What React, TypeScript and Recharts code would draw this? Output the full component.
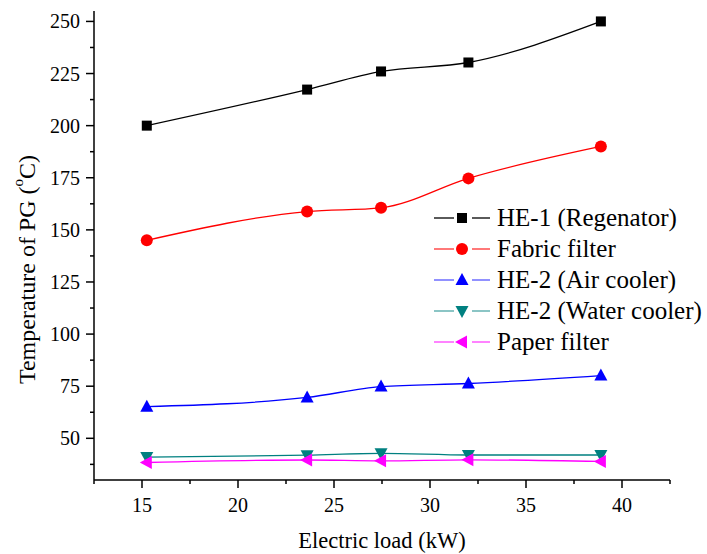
import React from 'react';
import { LineChart, Line, XAxis, YAxis, Legend } from 'recharts';

// electric load (kW)
const loads = [15.25, 23.6, 27.45, 32.0, 38.9];

// temperature of PG (°C) at each component
const regenerator = [200, 217.3, 226, 230.3, 250];
const fabricFilter = [145, 158.8, 160.6, 174.7, 190];
const airCooler = [65.2, 69.6, 74.8, 76.3, 80.1];
const waterCooler = [41, 41.9, 42.8, 42, 42];
const paperFilter = [38.4, 39.6, 39.2, 39.7, 38.9];

const xTicks = [12.5, 15, 17.5, 20, 22.5, 25, 27.5, 30, 32.5, 35, 37.5, 40, 42.5];
const xMajor = [15, 20, 25, 30, 35, 40];
const yTicks = [
  37.5, 50, 62.5, 75, 87.5, 100, 112.5, 125, 137.5, 150, 162.5, 175, 187.5, 200, 212.5,
  225, 237.5, 250,
];
const yMajor = [50, 75, 100, 125, 150, 175, 200, 225, 250];

const FONT = "'Liberation Serif', serif";

const data = loads.map((x, i) => ({
  x,
  he1: regenerator[i],
  fabric: fabricFilter[i],
  air: airCooler[i],
  water: waterCooler[i],
  paper: paperFilter[i],
}));

type Shape = 'square' | 'circle' | 'up' | 'down' | 'left';

const series: { key: string; name: string; color: string; legendLine: string; shape: Shape }[] = [
  { key: 'he1', name: 'HE-1 (Regenator)', color: '#000000', legendLine: '#000000', shape: 'square' },
  { key: 'fabric', name: 'Fabric filter', color: '#ff0000', legendLine: '#ff3030', shape: 'circle' },
  { key: 'air', name: 'HE-2 (Air cooler)', color: '#0000ff', legendLine: '#5555ff', shape: 'up' },
  { key: 'water', name: 'HE-2 (Water cooler)', color: '#008080', legendLine: '#4da6a6', shape: 'down' },
  { key: 'paper', name: 'Paper filter', color: '#ff00ff', legendLine: '#ff40ff', shape: 'left' },
];

const marker = (shape: Shape, cx: number, cy: number, color: string, key?: string) => {
  switch (shape) {
    case 'square':
      return <rect key={key} x={cx - 5} y={cy - 5} width={10} height={10} fill={color} />;
    case 'circle':
      return <circle key={key} cx={cx} cy={cy} r={6} fill={color} />;
    case 'up':
      return (
        <polygon key={key} points={`${cx},${cy - 7} ${cx - 6.5},${cy + 5} ${cx + 6.5},${cy + 5}`} fill={color} />
      );
    case 'down':
      return (
        <polygon key={key} points={`${cx},${cy + 7} ${cx - 6.5},${cy - 5} ${cx + 6.5},${cy - 5}`} fill={color} />
      );
    default:
      return (
        <polygon key={key} points={`${cx - 7},${cy} ${cx + 5},${cy - 6.5} ${cx + 5},${cy + 6.5}`} fill={color} />
      );
  }
};

const XTick = ({ x, y, payload }: any) => {
  const major = xMajor.includes(payload.value);
  return (
    <g>
      <line x1={x} x2={x} y1={y} y2={y + (major ? 8 : 4)} stroke="#000" strokeWidth={1.5} />
      {major && (
        <text x={x} y={y + 32} textAnchor="middle" style={{ fontFamily: FONT }} fontSize={20} fill="#000">
          {payload.value}
        </text>
      )}
    </g>
  );
};

const YTick = ({ x, y, payload }: any) => {
  const major = yMajor.includes(payload.value);
  return (
    <g>
      <line x1={x} x2={x - (major ? 8 : 4)} y1={y} y2={y} stroke="#000" strokeWidth={1.5} />
      {major && (
        <text x={x - 14} y={y + 7} textAnchor="end" style={{ fontFamily: FONT }} fontSize={20} fill="#000">
          {payload.value}
        </text>
      )}
    </g>
  );
};

const YLabel = ({ viewBox }: any) => {
  const cx = 27;
  const cy = viewBox.y + viewBox.height / 2 + 24;
  return (
    <text
      x={cx}
      y={cy}
      transform={`rotate(-90, ${cx}, ${cy})`}
      textAnchor="middle"
      dominantBaseline="central"
      style={{ fontFamily: FONT }}
      fontSize={24}
      fill="#000"
    >
      Temperature of PG (
      <tspan fontSize={15} dy={-9}>
        o
      </tspan>
      <tspan dy={9}>C)</tspan>
    </text>
  );
};

const XLabel = ({ viewBox }: any) => (
  <text
    x={viewBox.x + viewBox.width / 2}
    y={548}
    textAnchor="middle"
    style={{ fontFamily: FONT }}
    fontSize={22.5}
    fill="#000"
  >
    Electric load (kW)
  </text>
);

const LegendBox = () => (
  <div style={{ fontFamily: FONT, fontSize: 25, color: '#000' }}>
    {series.map((s) => (
      <div key={s.key} style={{ display: 'flex', alignItems: 'center', height: 30.8 }}>
        <svg width={63} height={30} style={{ display: 'block' }}>
          <line x1={0} x2={20} y1={15} y2={15} stroke={s.legendLine} strokeWidth={1.3} />
          <line x1={38} x2={56} y1={15} y2={15} stroke={s.legendLine} strokeWidth={1.3} />
          {marker(s.shape, 28, 15, s.color)}
        </svg>
        <span style={{ whiteSpace: 'nowrap', lineHeight: '30px' }}>{s.name}</span>
      </div>
    ))}
  </div>
);

export default function App() {
  return (
    <div style={{ position: 'absolute', left: 0, top: 0, background: '#fff', fontFamily: FONT }}>
      <LineChart width={707} height={554} data={data} margin={{ top: 11, right: 37, bottom: 0, left: 0 }}>
        <XAxis
          dataKey="x"
          type="number"
          domain={[12.5, 42.5]}
          ticks={xTicks}
          interval={0}
          tickSize={0}
          tickMargin={0}
          tickLine={false}
          axisLine={{ stroke: '#000', strokeWidth: 1.5 }}
          tick={<XTick />}
          height={74}
          label={{ content: <XLabel /> }}
        />
        <YAxis
          type="number"
          domain={[30, 255]}
          ticks={yTicks}
          interval={0}
          tickSize={0}
          tickMargin={0}
          tickLine={false}
          axisLine={{ stroke: '#000', strokeWidth: 1.5 }}
          tick={<YTick />}
          width={94}
          label={{ content: <YLabel /> }}
        />
        <Legend
          verticalAlign="middle"
          align="center"
          layout="vertical"
          content={<LegendBox />}
          wrapperStyle={{ left: 434, top: 203, width: 280 }}
        />
        {series.map((s) => (
          <Line
            key={s.key}
            dataKey={s.key}
            name={s.name}
            type="monotone"
            stroke={s.color}
            strokeWidth={1.3}
            isAnimationActive={false}
            dot={(p: any) => marker(s.shape, p.cx, p.cy, s.color, `${s.key}-${p.index}`)}
            activeDot={false}
          />
        ))}
      </LineChart>
    </div>
  );
}
